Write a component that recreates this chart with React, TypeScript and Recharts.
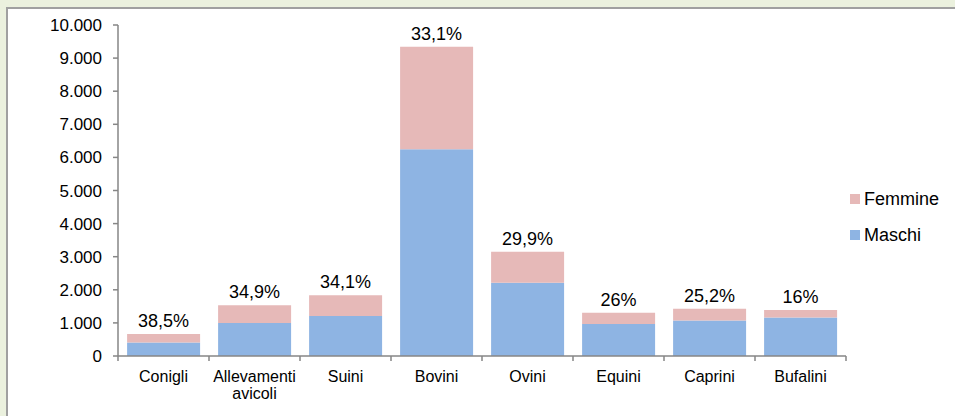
import React from "react";
import { BarChart, Bar, XAxis, YAxis, Legend, LabelList, Text } from "recharts";

const categories = [
  "Conigli",
  "Allevamenti avicoli",
  "Suini",
  "Bovini",
  "Ovini",
  "Equini",
  "Caprini",
  "Bufalini",
];
const maschi = [410, 1000, 1210, 6250, 2210, 970, 1070, 1165];
const femmine = [257, 535, 626, 3090, 943, 340, 360, 222];
const percentLabels = ["38,5%", "34,9%", "34,1%", "33,1%", "29,9%", "26%", "25,2%", "16%"];
const yTicks = [0, 1000, 2000, 3000, 4000, 5000, 6000, 7000, 8000, 9000, 10000];

const data = categories.map((c, i) => ({
  name: c,
  Maschi: maschi[i],
  Femmine: femmine[i],
  pct: percentLabels[i],
}));

const FONT = "'Liberation Sans', Arial, sans-serif";
const AXIS = "#868686";
const BLUE = "#8EB4E3";
const PINK = "#E6B9B8";

const fmt = (v: number) => String(v).replace(/\B(?=(\d{3})+(?!\d))/g, ".");

const CatTick = (props: any) => {
  const { x, y, payload, index, visibleTicksCount } = props;
  const off = payload && typeof payload.offset === "number" ? payload.offset : 0;
  const isLast = index === (visibleTicksCount ?? categories.length) - 1;
  return (
    <g>
      <line x1={x - off} x2={x - off} y1={y} y2={y + 5} stroke={AXIS} strokeWidth={1.5} />
      {isLast && <line x1={x + off} x2={x + off} y1={y} y2={y + 5} stroke={AXIS} strokeWidth={1.5} />}
      <Text
        x={x}
        y={y + 15}
        width={92}
        textAnchor="middle"
        verticalAnchor="start"
        lineHeight={17}
        fontSize={16}
        fill="#000"
        style={{ fontSize: 16, fontFamily: FONT }}
      >
        {payload.value}
      </Text>
    </g>
  );
};

const LegendContent = (props: any) => {
  const items = [...(props.payload || [])].sort((a: any, b: any) =>
    String(a.value).localeCompare(String(b.value))
  );
  return (
    <div style={{ fontFamily: FONT }}>
      {items.map((it: any) => (
        <div
          key={String(it.value)}
          style={{ display: "flex", alignItems: "center", height: 20, marginBottom: 16.5 }}
        >
          <span style={{ width: 10, height: 10, background: it.color, display: "inline-block", marginRight: 4 }} />
          <span style={{ fontSize: 18, color: "#000", lineHeight: "20px" }}>{it.value}</span>
        </div>
      ))}
    </div>
  );
};

export default function App() {
  return (
    <div
      style={{
        position: "fixed",
        left: 0,
        top: 0,
        width: 955,
        height: 416,
        background: "#EBF1DE",
        overflow: "hidden",
        fontFamily: FONT,
      }}
    >
      <div
        style={{
          position: "absolute",
          left: 6,
          top: 7,
          width: 1000,
          height: 500,
          background: "#fff",
          border: "2px solid #A0A0A0",
          boxSizing: "border-box",
        }}
      />
      <div style={{ position: "absolute", left: 0, top: 0 }}>
        <BarChart
          width={955}
          height={416}
          data={data}
          margin={{ top: 25, right: 109, bottom: 0, left: 0 }}
          barCategoryGap="10%"
        >
          <XAxis
            dataKey="name"
            interval={0}
            height={60}
            tickSize={0}
            tickMargin={0}
            tickLine={false}
            axisLine={{ stroke: AXIS, strokeWidth: 1.5 }}
            tick={<CatTick />}
          />
          <YAxis
            type="number"
            domain={[0, 10000]}
            ticks={yTicks}
            interval={0}
            width={118}
            tickSize={5}
            tickMargin={11}
            tickFormatter={fmt}
            axisLine={{ stroke: AXIS, strokeWidth: 1.5 }}
            tickLine={{ stroke: AXIS, strokeWidth: 1.5 }}
            tick={{ fill: "#000", fontSize: 17, fontFamily: FONT }}
          />
          <Legend
            layout="vertical"
            align="center"
            verticalAlign="middle"
            content={<LegendContent />}
            wrapperStyle={{ position: "absolute", left: 850, top: 188.5, width: 100 }}
          />
          <Bar dataKey="Maschi" stackId="a" fill={BLUE} isAnimationActive={false} />
          <Bar dataKey="Femmine" stackId="a" fill={PINK} isAnimationActive={false}>
            <LabelList
              dataKey="pct"
              position="top"
              offset={7}
              fill="#000"
              fontSize={18}
              fontFamily={FONT}
            />
          </Bar>
        </BarChart>
      </div>
    </div>
  );
}
